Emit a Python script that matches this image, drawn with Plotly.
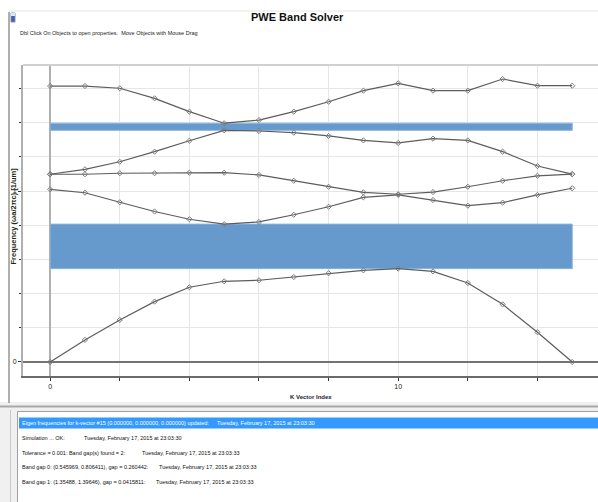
import plotly.graph_objects as go

# k-point index along the path
k_index = list(range(16))

# band frequencies (a/lambda) at each k-point, lowest band first
band_1 = [0.0, 0.129, 0.246, 0.353, 0.437, 0.472, 0.478, 0.497, 0.519, 0.536, 0.545969, 0.530, 0.462, 0.337, 0.174, 0.0]
band_2 = [1.010, 0.990, 0.934, 0.880, 0.835, 0.806411, 0.819, 0.861, 0.908, 0.963, 0.977, 0.947, 0.914, 0.932, 0.977, 1.016]
band_3 = [1.098, 1.098, 1.104, 1.104, 1.107, 1.107, 1.094, 1.060, 1.025, 0.992, 0.981, 0.994, 1.025, 1.060, 1.089, 1.099]
band_4 = [1.098, 1.127, 1.171, 1.230, 1.294, 1.35488, 1.351, 1.341, 1.322, 1.296, 1.281, 1.306, 1.296, 1.230, 1.146, 1.099]
band_5 = [1.614, 1.614, 1.601, 1.542, 1.464, 1.39646, 1.415, 1.464, 1.522, 1.587, 1.630, 1.587, 1.587, 1.655, 1.616, 1.616]
bands = [band_1, band_2, band_3, band_4, band_5]

# photonic band gaps found by the solver
gap_low = [0.545969, 1.35488]
gap_high = [0.806411, 1.39646]
gap_width = [0.260442, 0.0415811]

# message log
log_time_update = "Tuesday, February 17, 2015 at 23:03:30"
log_time_done = "Tuesday, February 17, 2015 at 23:03:33"

x_tick_vals = [0, 10]
y_tick_vals = [0, 1]

W, H = 598, 502
L, R, T, B = 23, 598, 65, 376
X_RANGE = [-0.78, 15.74]
Y_RANGE = [-0.082, 1.737]

SANS = "Liberation Sans, Arial, sans-serif"


def fx(px):
    return (px - L) / (R - L)


def fy(py):
    return (B - py) / (B - T)


fig = go.Figure()

for band in bands:
    fig.add_trace(go.Scatter(
        x=k_index, y=band, mode="lines+markers",
        line=dict(color="#5c5c5c", width=1.2),
        marker=dict(symbol="diamond-open", size=4, color="#7c7c7c", line=dict(width=1)),
        showlegend=False, hoverinfo="skip",
    ))

shapes = []
for lo, hi in zip(gap_low, gap_high):
    shapes.append(dict(
        type="rect", xref="x", yref="y",
        x0=k_index[0], x1=k_index[-1], y0=lo, y1=hi,
        fillcolor="#6699cc", line=dict(color="#8db3da", width=1),
        layer="between",
    ))

# plot frame: top edge
shapes.append(dict(type="line", xref="paper", yref="paper", x0=0, x1=1, y0=1, y1=1,
                   line=dict(color="#d0d0d0", width=2)))
# window chrome
shapes.append(dict(type="line", xref="paper", yref="paper", x0=fx(9), x1=fx(598), y0=fy(11), y1=fy(11),
                   line=dict(color="#e6e6e6", width=1)))
shapes.append(dict(type="line", xref="paper", yref="paper", x0=fx(9), x1=fx(9), y0=fy(12), y1=fy(403),
                   line=dict(color="#606060", width=1)))
shapes.append(dict(type="rect", xref="paper", yref="paper", x0=fx(11), x1=fx(15), y0=fy(13), y1=fy(22),
                   fillcolor="#3c5fb8", line=dict(color="#8090b0", width=1)))
shapes.append(dict(type="rect", xref="paper", yref="paper", x0=fx(11), x1=fx(15), y0=fy(13), y1=fy(16),
                   fillcolor="#dfe6f4", line=dict(width=0)))
# splitter between chart and log
shapes.append(dict(type="rect", xref="paper", yref="paper", x0=fx(0), x1=fx(598), y0=fy(402), y1=fy(502),
                   fillcolor="#f0f0f0", line=dict(width=0), layer="below"))
shapes.append(dict(type="line", xref="paper", yref="paper", x0=fx(0), x1=fx(598), y0=fy(406.5), y1=fy(406.5),
                   line=dict(color="#a8a8a8", width=2)))
shapes.append(dict(type="line", xref="paper", yref="paper", x0=fx(10.5), x1=fx(10.5), y0=fy(410), y1=fy(502),
                   line=dict(color="#c8c8c8", width=1)))
# log panel
shapes.append(dict(type="rect", xref="paper", yref="paper", x0=fx(17.5), x1=fx(600), y0=fy(411.5), y1=fy(505),
                   fillcolor="#ffffff", line=dict(color="#a0a0a0", width=1)))
shapes.append(dict(type="rect", xref="paper", yref="paper", x0=fx(19), x1=fx(598), y0=fy(417.5), y1=fy(428.5),
                   fillcolor="#3399ff", line=dict(width=0)))

annotations = []
annotations.append(dict(text="<b>PWE Band Solver</b>", x=fx(297), y=fy(17), xref="paper", yref="paper",
                        showarrow=False, xanchor="center", yanchor="middle",
                        font=dict(family=SANS, size=11, color="#111111")))
annotations.append(dict(text="Dbl Click On Objects to open properties.  Move Objects with Mouse Drag",
                        x=fx(18), y=fy(33), xref="paper", yref="paper", showarrow=False,
                        xanchor="left", yanchor="middle",
                        font=dict(family=SANS, size=5.5, color="#222222")))
annotations.append(dict(text="<b>K Vector Index</b>", x=fx(311), y=fy(397), xref="paper", yref="paper",
                        showarrow=False, xanchor="center", yanchor="middle",
                        font=dict(family=SANS, size=6, color="#1a1a33")))
annotations.append(dict(text="<b>Frequency (ωa/2πc) [1/um]</b>", x=fx(12.5), y=fy(216), xref="paper",
                        yref="paper", showarrow=False, xanchor="center", yanchor="middle", textangle=-90,
                        font=dict(family=SANS, size=7.5, color="#1a2a10")))

log_rows = [
    ("Eigen frequencies for k-vector #%d (0.000000, 0.000000, 0.000000) updated:" % k_index[-1],
     log_time_update, 215, "#ffffff"),
    ("Simulation ... OK:", log_time_update, 82, "#111111"),
    ("Tolerance = 0.001: Band gap(s) found = %d:" % len(gap_low), log_time_done, 140, "#111111"),
]
for i, (lo, hi, gw) in enumerate(zip(gap_low, gap_high, gap_width)):
    log_rows.append(("Band gap %d: (%g, %g), gap = %g:" % (i, lo, hi, gw), log_time_done,
                     157 if i == 0 else 154, "#111111"))

row_y = [423, 438, 452.5, 467, 482]
for (msg, stamp, stamp_x, col), yy in zip(log_rows, row_y):
    annotations.append(dict(text=msg, x=fx(20), y=fy(yy), xref="paper", yref="paper", showarrow=False,
                            xanchor="left", yanchor="middle", font=dict(family=SANS, size=5.5, color=col)))
    annotations.append(dict(text=stamp, x=fx(stamp_x), y=fy(yy), xref="paper", yref="paper",
                            showarrow=False, xanchor="left", yanchor="middle",
                            font=dict(family=SANS, size=5.5, color=col)))

fig.update_layout(
    width=W, height=H, autosize=False,
    margin=dict(l=L, r=W - R, t=T, b=H - B, pad=0),
    paper_bgcolor="#ffffff", plot_bgcolor="#ffffff",
    shapes=shapes, annotations=annotations,
    xaxis=dict(
        range=X_RANGE, tickmode="array", tickvals=x_tick_vals, ticktext=[str(v) for v in x_tick_vals],
        showgrid=True, gridcolor="#e6e6e6", gridwidth=1,
        minor=dict(dtick=2, tick0=0, showgrid=True, gridcolor="#e6e6e6", gridwidth=1,
                   ticks="outside", ticklen=3, tickcolor="#333333"),
        ticks="outside", ticklen=3, tickcolor="#333333",
        showline=True, linecolor="#6a6a6a", linewidth=2,
        zeroline=True, zerolinecolor="#b0b0b0", zerolinewidth=1.5,
        tickfont=dict(family=SANS, size=7, color="#222222"),
        fixedrange=True,
    ),
    yaxis=dict(
        range=Y_RANGE, tickmode="array", tickvals=y_tick_vals, ticktext=[str(v) for v in y_tick_vals],
        showgrid=True, gridcolor="#e6e6e6", gridwidth=1,
        minor=dict(dtick=0.2, tick0=0, showgrid=True, gridcolor="#e6e6e6", gridwidth=1,
                   ticks="outside", ticklen=2, tickcolor="#333333"),
        ticks="outside", ticklen=3, tickcolor="#333333",
        showline=True, linecolor="#b0b0b0", linewidth=2,
        zeroline=True, zerolinecolor="#737373", zerolinewidth=2,
        tickfont=dict(family=SANS, size=7, color="#222222"),
        fixedrange=True,
    ),
    xaxis2=dict(
        overlaying="x", anchor="free",
        position=(0 - Y_RANGE[0]) / (Y_RANGE[1] - Y_RANGE[0]),
        range=X_RANGE, tickmode="linear", tick0=0, dtick=2,
        ticks="inside", ticklen=3, tickcolor="#555555",
        showticklabels=False, showgrid=False, zeroline=False, showline=False,
        fixedrange=True,
    ),
)

fig.write_html("out.html", config={"displayModeBar": False})
